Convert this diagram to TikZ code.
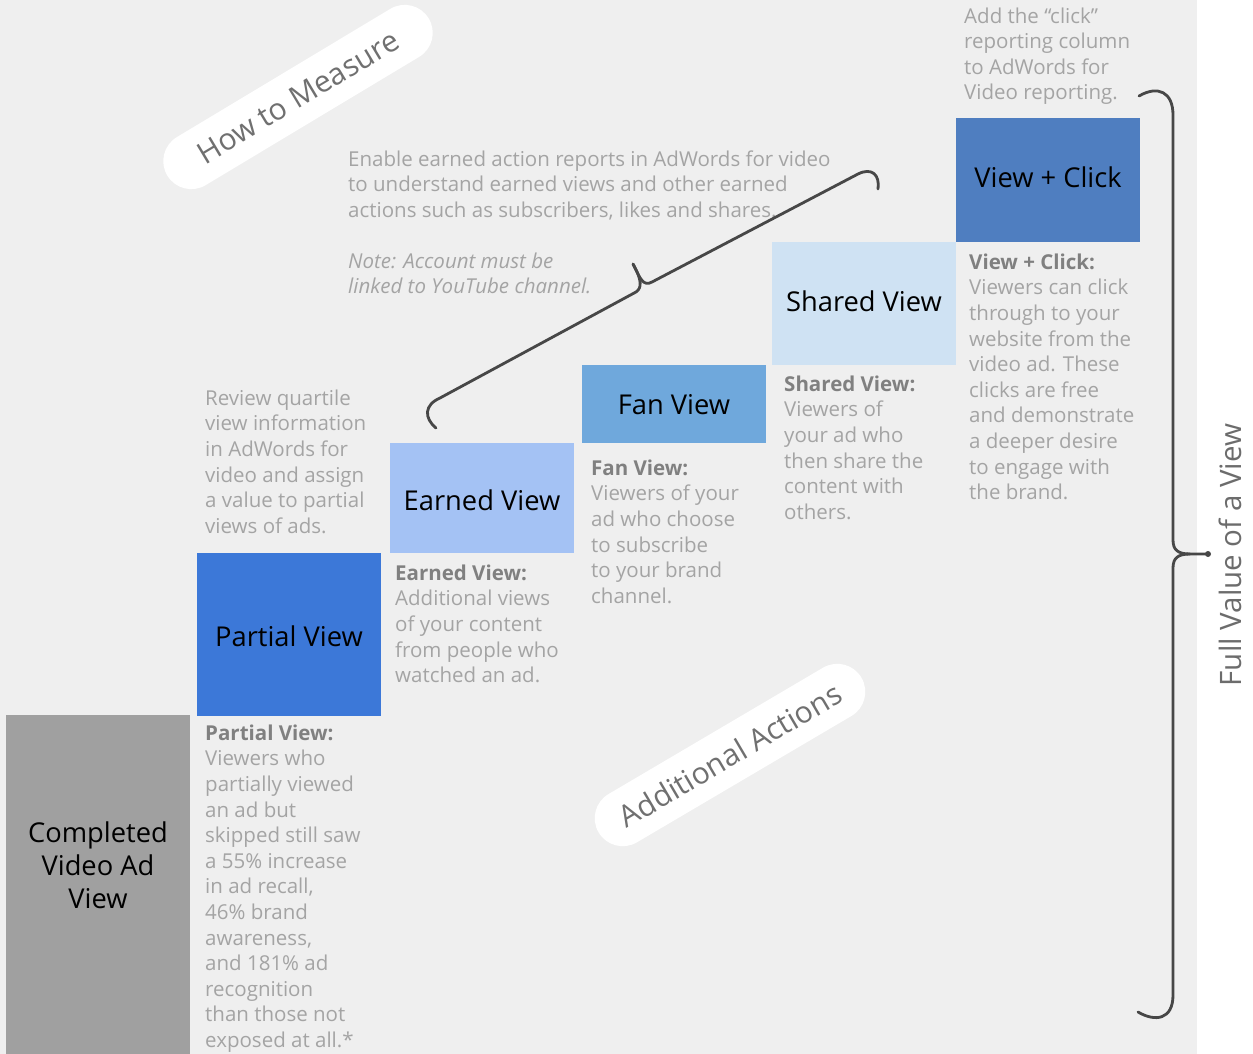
\documentclass[tikz,border=0pt]{standalone}
\usepackage{fontspec}
\setmainfont{Open Sans}
\definecolor{bg}{HTML}{EFEFEF}
\definecolor{cComp}{HTML}{A0A0A0}
\definecolor{cPartial}{HTML}{3C78D8}
\definecolor{cEarned}{HTML}{A4C2F4}
\definecolor{cFan}{HTML}{6FA8DC}
\definecolor{cShared}{HTML}{CFE2F3}
\definecolor{cClick}{HTML}{4F7EC0}
\definecolor{descgray}{HTML}{A4A4A4}
\definecolor{headgray}{HTML}{808080}
\definecolor{pillgray}{HTML}{707070}
\definecolor{bracegray}{HTML}{474747}
\newcommand{\hd}[1]{{\bfseries\color{headgray}#1}}
\begin{document}
\begin{tikzpicture}[x=1pt,y=-1pt,
  stepbox/.style={inner sep=0pt, minimum width=184pt, text=black,
    font=\fontsize{27.3}{33}\selectfont, align=center},
  steplabel/.style={inner sep=0pt, text=black,
    font=\fontsize{27.3}{33}\selectfont, align=center},
  desc/.style={anchor=north west, inner sep=0pt, align=left, text=descgray,
    yshift=17.92pt, font=\fontsize{20.5}{25.6}\selectfont},
  pill/.style={fill=white, rounded corners=28pt, minimum width=305pt,
    minimum height=56pt, inner sep=0pt, text=pillgray,
    font=\fontsize{30}{32}\selectfont},
  bracepath/.style={draw=bracegray, line width=2.8pt, line cap=round, line join=round}]
\useasboundingbox (0,0) rectangle (1253,1054);
\fill[bg] (0,0) rectangle (1197,1054);

% step boxes
\node[stepbox, fill=cComp, minimum height=339pt] (completed) at (98,884.5) {};
\node[steplabel] (completedlabel) at (98,865) {Completed\\Video Ad\\View};
\node[stepbox, fill=cPartial, minimum height=163pt] (partial) at (289,634.5) {};
\node[steplabel] (partiallabel) at (289,636.5) {Partial View};
\node[stepbox, fill=cEarned, minimum height=110pt] (earned) at (482,498) {};
\node[steplabel] (earnedlabel) at (482,500) {Earned View};
\node[stepbox, fill=cFan, minimum height=78pt] (fan) at (674,404) {};
\node[steplabel] (fanlabel) at (674,405) {Fan View};
\node[stepbox, fill=cShared, minimum height=123pt] (shared) at (864,303.5) {};
\node[steplabel] (sharedlabel) at (864,301.5) {Shared View};
\node[stepbox, fill=cClick, minimum height=124pt] (click) at (1048,180) {};
\node[steplabel] (clicklabel) at (1048,177.5) {View + Click};

% descriptions
\node[desc] (dpartial) at (205,740) {\strut\hd{Partial View:}\\Viewers who\\partially viewed\\an ad but\\skipped still saw\\a 55\% increase\\in ad recall,\\46\% brand\\awareness,\\and 181\% ad\\recognition\\than those not\\exposed at all.*};
\node[desc] (dearned) at (395,580) {\strut\hd{Earned View:}\\Additional views\\of your content\\from people who\\watched an ad.};
\node[desc] (dfan) at (591,475) {\strut\hd{Fan View:}\\Viewers of your\\ad who choose\\to subscribe\\to your brand\\channel.};
\node[desc] (dshared) at (784,391) {\strut\hd{Shared View:}\\Viewers of\\your ad who\\then share the\\content with\\others.};
\node[desc] (dclick) at (969,269) {\strut\hd{View + Click:}\\Viewers can click\\through to your\\website from the\\video ad. These\\clicks are free\\and demonstrate\\a deeper desire\\to engage with\\the brand.};
\node[desc] (review) at (205,405) {\strut Review quartile\\view information\\in AdWords for\\video and assign\\a value to partial\\views of ads.};
\node[desc] (enable) at (348,166) {\strut Enable earned action reports in AdWords for video\\to understand earned views and other earned\\actions such as subscribers, likes and shares.};
\node[desc, font=\fontsize{20.5}{25.6}\selectfont\itshape] (note) at (348,268) {\strut Note: Account must be\\linked to YouTube channel.};
\node[desc] (addclick) at (964,23) {\strut Add the “click”\\reporting column\\to AdWords for\\Video reporting.};

% pills
\node[pill, rotate=31] (measure) at (298,97) {How to Measure};
\node[pill, rotate=30.5] (additional) at (730,755) {Additional Actions};

% diagonal brace
\draw[bracepath] (436,428) .. controls (424,418) and (424,405) .. (440,398)
  -- (636,292) .. controls (642,288) and (642,280) .. (633,264);
\draw[bracepath] (633,264) .. controls (640,278) and (643,287) .. (652,282)
  -- (858,174) .. controls (872,167) and (880,175) .. (878,189);

% right brace
\coordinate (tip) at (1208,554);
\draw[bracepath] (1139,96) .. controls (1158,85) and (1173,92) .. (1173,115)
  -- (1173,540) .. controls (1173,550) and (1178,554) .. (1190,554) -- (tip);
\draw[bracepath] (1190,554) .. controls (1178,554) and (1173,558) .. (1173,568)
  -- (1173,995) .. controls (1173,1020) and (1155,1022) .. (1138,1012);
\fill[bracegray] (tip) circle (3pt);

\node[rotate=90, anchor=base, inner sep=0pt, text=bracegray!80,
  font=\fontsize{29.5}{31}\selectfont] (fullvalue) at (1241,555) {Full Value of a View};
\end{tikzpicture}
\end{document}
